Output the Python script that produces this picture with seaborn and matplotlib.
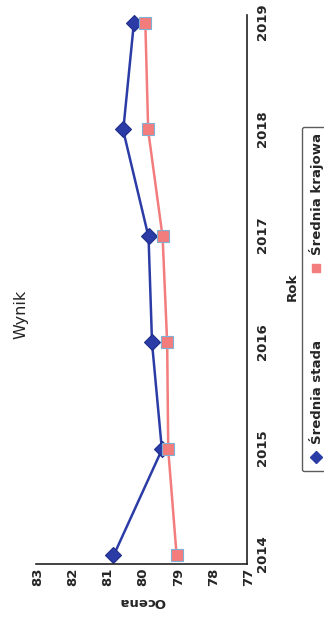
import numpy as np
import pandas as pd
import matplotlib
matplotlib.use("Agg")
import matplotlib.pyplot as plt
from matplotlib.lines import Line2D
import seaborn as sns

# Wyniki oceny: średnia stada vs średnia krajowa
lata = [2014, 2015, 2016, 2017, 2018, 2019]
srednia_stada = [80.80, 79.42, 79.70, 79.80, 80.52, 80.22]
srednia_krajowa = [79.00, 79.24, 79.27, 79.40, 79.81, 79.89]
nazwy_serii = ["Średnia stada", "Średnia krajowa"]
ticki_ocena = [77, 78, 79, 80, 81, 82, 83]

df = pd.DataFrame({
    "Rok": lata * 2,
    "Ocena": srednia_stada + srednia_krajowa,
    "Seria": [nazwy_serii[0]] * len(lata) + [nazwy_serii[1]] * len(lata),
})

sns.set_theme(style="white")
plt.rcParams["font.family"] = ["DejaVu Sans"]

W, H = 620, 324
fig = plt.figure(figsize=(W / 100, H / 100), dpi=100)
ax = fig.add_axes([56 / W, 1 - 247 / H, (605 - 56) / W, (247 - 36) / H])

kolory = {nazwy_serii[0]: "#2c3ca6", nazwy_serii[1]: "#f37c7c"}
znaczniki = {nazwy_serii[0]: "D", nazwy_serii[1]: "s"}
sns.lineplot(data=df, x="Rok", y="Ocena", hue="Seria", style="Seria",
             palette=kolory, markers=znaczniki, dashes=False,
             linewidth=1.8, markersize=8, markeredgewidth=0.8,
             ax=ax, legend=False)
for line, nazwa in zip(ax.lines, nazwy_serii):
    line.set_markeredgecolor("#1f2f8a" if nazwa == nazwy_serii[0] else "#7fb0d6")
    line.set_markerfacecolor(kolory[nazwa])

ax.set_xlim(2013.925, 2019.085)
ax.set_ylim(77, 83)
ax.set_xticks(lata)
ax.set_xticklabels([str(r) for r in lata], fontsize=9.5, fontweight="bold")
ax.set_yticks(ticki_ocena)
ax.set_yticklabels([str(t) for t in ticki_ocena], fontsize=9.5, fontweight="bold")
ax.tick_params(axis="x", direction="inout", length=7, width=1, color="#222222", pad=3)
ax.tick_params(axis="y", length=0, pad=4)
for s in ["top", "right"]:
    ax.spines[s].set_visible(False)
for s in ["left", "bottom"]:
    ax.spines[s].set_color("#222222")
    ax.spines[s].set_linewidth(1.2)
ax.set_xlabel("Rok", fontsize=9.5, fontweight="bold", labelpad=12)
ax.set_ylabel("Ocena", fontsize=9.5, fontweight="bold", labelpad=6)
ax.grid(False)

fig.text(304 / W, 1 - 20 / H, "Wynik", ha="center", va="center", fontsize=11.5)

uchwyty = [Line2D([], [], linestyle="none", marker=znaczniki[n], markersize=6,
                  markerfacecolor=kolory[n], markeredgecolor=kolory[n])
           for n in nazwy_serii]
leg = fig.legend(uchwyty, nazwy_serii, loc="upper center", ncol=2,
                 bbox_to_anchor=(320 / W, 1 - 295 / H), frameon=True, fancybox=True,
                 prop={"weight": "bold", "size": 9.5}, handletextpad=0.4,
                 columnspacing=4.8, borderpad=0.5, handlelength=1.2)
leg.get_frame().set_edgecolor("#333333")
leg.get_frame().set_linewidth(1.0)

fig.canvas.draw()
obraz = np.asarray(fig.canvas.buffer_rgba())[:, :, :3]
obraz = np.rot90(obraz, 1)
plt.imsave("out.png", np.ascontiguousarray(obraz))
